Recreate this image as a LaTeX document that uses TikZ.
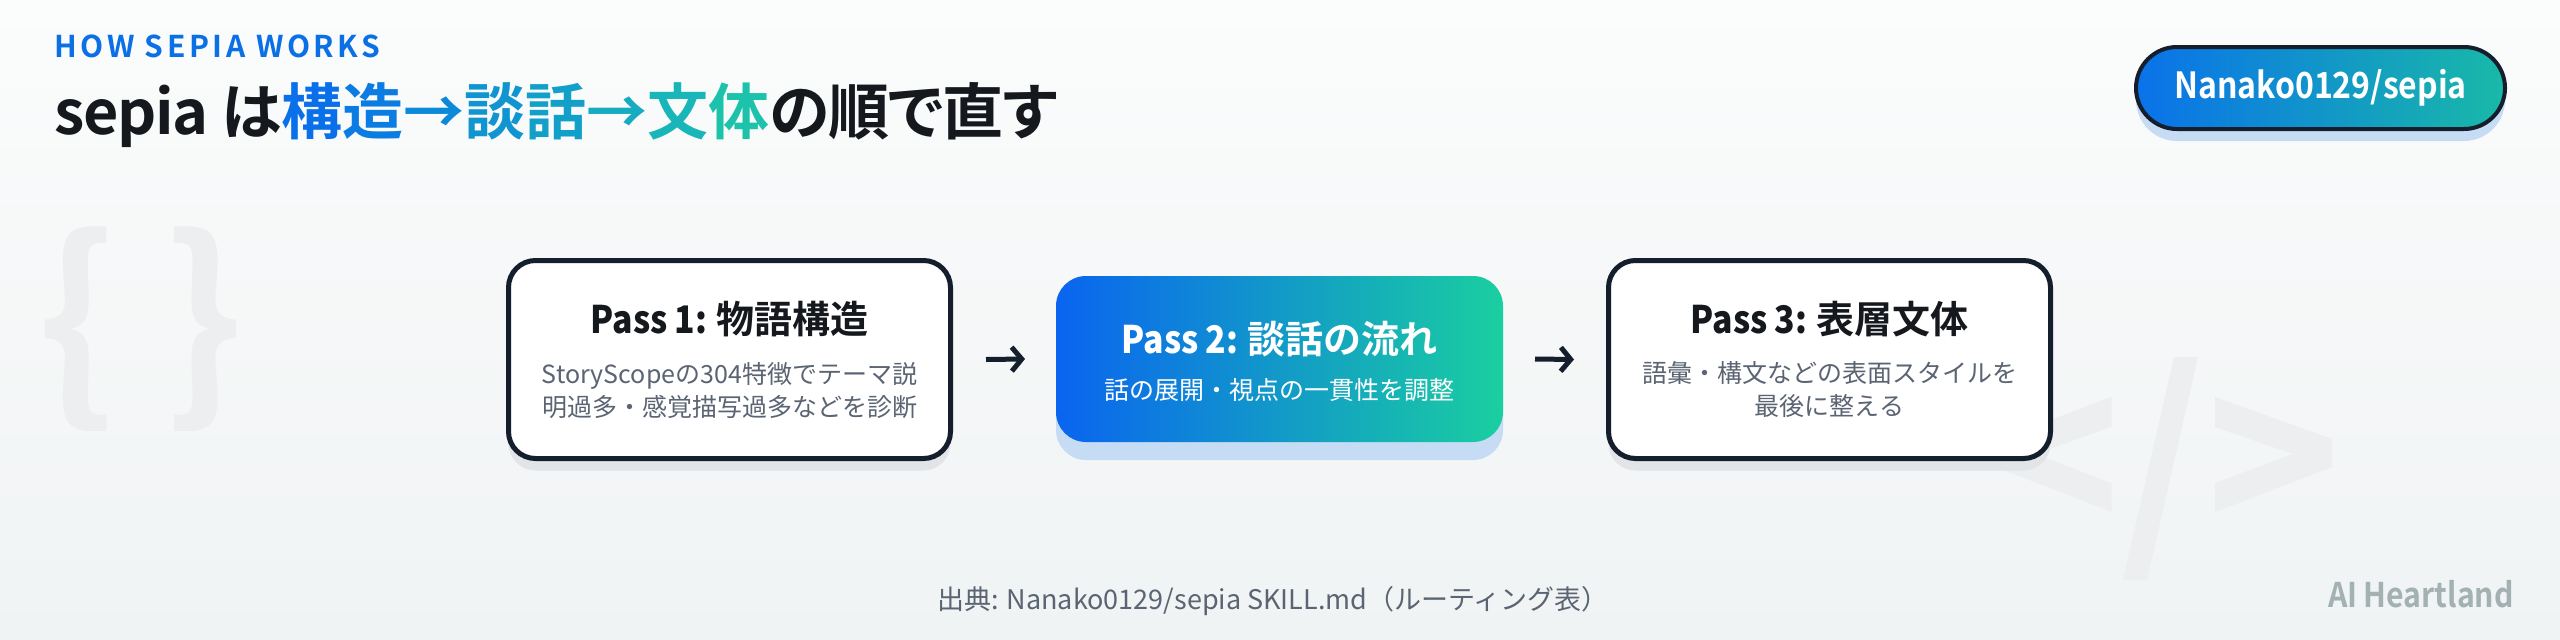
\documentclass[tikz,border=0pt]{standalone}
\usepackage{fontspec}
\setmainfont{Noto Sans CJK JP}[BoldFont={Noto Sans CJK JP Bold}]
\newfontfamily\headfont{Noto Sans CJK JP Bold}[RawFeature=+palt, LetterSpace=-2]
\newfontfamily\kickfont{Noto Sans CJK JP Bold}[LetterSpace=12]
% narrower Latin for bold labels
\newfontfamily\latb{Noto Sans CJK JP Bold}[FakeStretch=0.89, WordSpace=0.85]
\usepackage{xcolor}
\usepackage{tikz}
\usetikzlibrary{arrows.meta, shadows}

\definecolor{ink}{HTML}{141E2C}
\definecolor{txt}{HTML}{15181D}
\definecolor{subtxt}{HTML}{5B6472}
\definecolor{brandblue}{HTML}{0B6FE6}
\definecolor{gA}{HTML}{0A64F0}
\definecolor{gB}{HTML}{1ACFA0}
\definecolor{tagA}{HTML}{0A72EA}
\definecolor{tagB}{HTML}{19B9A8}
\definecolor{bgtop}{HTML}{FBFCFC}
\definecolor{bgbot}{HTML}{F0F3F4}
\definecolor{wmark}{HTML}{ECEEEF}
\definecolor{signgray}{HTML}{A3B1B3}
\definecolor{shgray}{HTML}{E1E5E8}
\definecolor{shblue}{HTML}{C6DCF5}
% title gradient, one step per glyph
\definecolor{h1}{HTML}{0A70EA}
\definecolor{h2}{HTML}{0B7DE2}
\definecolor{h3}{HTML}{0D89DA}
\definecolor{h4}{HTML}{1095D1}
\definecolor{h5}{HTML}{12A0C9}
\definecolor{h6}{HTML}{15ABC0}
\definecolor{h7}{HTML}{18B6B8}
\definecolor{h8}{HTML}{1CC3AA}

\begin{document}
\begin{tikzpicture}[
    x=1pt, y=-1pt,
    pass/.style={draw=ink, line width=5pt, fill=white, rounded corners=27pt,
                 minimum width=442pt, minimum height=198pt, outer sep=0pt,
                 drop shadow={shadow xshift=0pt, shadow yshift=-12pt,
                              fill=shgray, opacity=1}},
    hot/.style={left color=gA, right color=gB, rounded corners=30pt,
                minimum width=447pt, minimum height=166pt, outer sep=0pt,
                drop shadow={shadow xshift=0pt, shadow yshift=-18pt,
                             fill=shblue, opacity=1}},
    passtitle/.style={inner sep=0pt, text=txt,
                      font=\fontsize{38}{46}\selectfont\bfseries},
    passnote/.style={inner sep=0pt, text=subtxt, align=center,
                     font=\fontsize{25}{33}\selectfont},
    flow/.style={draw=ink, line width=5pt,
                 -{Straight Barb[length=10pt, width=24pt]}},
  ]
  \useasboundingbox (0,0) rectangle (2560,640);
  \shade[top color=bgtop, bottom color=bgbot] (0,0) rectangle (2560,640);

  % watermarks
  \node[text=wmark, inner sep=0pt, font=\fontsize{210}{210}\selectfont\bfseries]
    (braces) at (141,329) {\{ \}};
  \fill[wmark] (2111.5,396.7) -- (2111.5,426.7) -- (2035.6,454) -- (2111.5,483.3)
    -- (2111.5,511.7) -- (1994.7,466.7) -- (1994.7,441.7) -- cycle;
  \fill[wmark] (2174,357) -- (2198,357) -- (2147,580) -- (2123,580) -- cycle;
  \fill[wmark] (2215,397) -- (2332,439) -- (2332,467) -- (2215,512)
    -- (2215,483) -- (2293,454) -- (2215,427) -- cycle;

  % header
  \node[anchor=base west, inner sep=0pt, text=brandblue,
        font=\kickfont\fontsize{30}{34}\selectfont] (kicker) at (54,57) {HOW SEPIA WORKS};
  \node[anchor=base west, inner sep=0pt, text=txt,
        font=\headfont\fontsize{61}{66}\selectfont] (ttl) at (54,134)
    {sepia は\textcolor{h1}{構}\textcolor{h2}{造}\textcolor{h3}{→}\textcolor{h4}{談}%
     \textcolor{h5}{話}\textcolor{h6}{→}\textcolor{h7}{文}\textcolor{h8}{体}の順で直す};
  \node[draw=ink, line width=4pt, rounded corners=41pt, left color=tagA, right color=tagB,
        minimum width=369pt, minimum height=82pt, text=white,
        font=\latb\fontsize{36}{40}\selectfont,
        drop shadow={shadow xshift=0pt, shadow yshift=-12pt, fill=shblue, opacity=1}]
    (badge) at (2320.5,88) {Nanako0129/sepia};

  % Pass 1
  \node[pass] (p1) at (729.5,359.5) {};
  \node[passtitle] (t1) at (729.5,319) {{\latb Pass 1: }物語構造};
  \node[passnote] (n1) at (729.5,391) {StoryScopeの304特徴でテーマ説\\明過多・感覚描写過多などを診断};

  % Pass 2
  \node[hot] (p2) at (1279.5,359) {};
  \node[passtitle, text=white] (t2) at (1279.5,339) {{\latb Pass 2: }談話の流れ};
  \node[passnote, text=white] (n2) at (1279.5,390) {話の展開・視点の一貫性を調整};

  % Pass 3
  \node[pass] (p3) at (1829.5,359.5) {};
  \node[passtitle] (t3) at (1829.5,319) {{\latb Pass 3: }表層文体};
  \node[passnote] (n3) at (1829.5,390) {語彙・構文などの表面スタイルを\\最後に整える};

  \draw[flow] ([xshift=35.5pt]p1.east) -- ([xshift=-31pt]p2.west);
  \draw[flow] ([xshift=32pt]p2.east) -- ([xshift=-34.5pt]p3.west);

  % footer
  \node[text=subtxt, inner sep=0pt, font=\fontsize{27}{30}\selectfont] (src) at (1273,601)
    {出典: Nanako0129/sepia SKILL.md（ルーティング表）};
  \node[anchor=base east, inner sep=0pt, text=signgray,
        font=\latb\fontsize{34}{36}\selectfont] (sig) at (2514,607) {AI Heartland};
\end{tikzpicture}
\end{document}
